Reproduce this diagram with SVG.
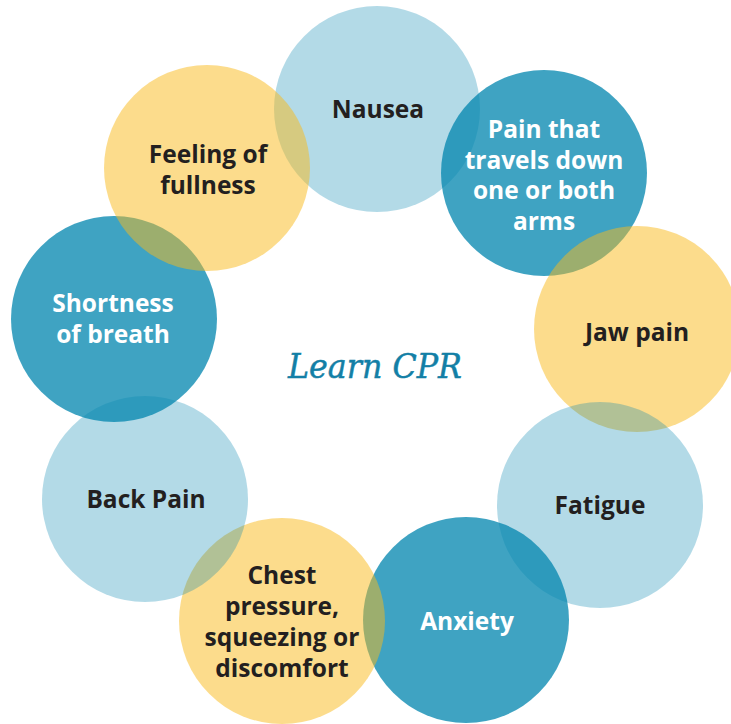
<svg xmlns="http://www.w3.org/2000/svg" width="731" height="724" viewBox="0 0 731 724">
<style>
.lb{fill:#0286af;fill-opacity:0.3}
.tl{fill:#0286af;fill-opacity:0.76}
.yl{fill:#f9b919;fill-opacity:0.5}
.t{font-family:"Open Sans","Liberation Sans",sans-serif;font-weight:700;font-size:24.5px;text-anchor:middle;fill:#231f20}
.w{fill:#ffffff}
.title{font-family:"DejaVu Serif","Liberation Serif",serif;font-style:italic;font-size:34px;fill:#137fa6;stroke:#137fa6;stroke-width:0.5;text-anchor:middle}
</style>
<rect width="731" height="724" fill="#ffffff"/>
<g id="connectors"/>
<g id="nausea"><circle class="lb" cx="377" cy="109" r="103"/><text class="t" x="378" y="118">Nausea</text></g>
<g id="pain-arms"><circle class="tl" cx="544" cy="173" r="103"/><text class="t w" x="544"><tspan x="544" y="138">Pain that</tspan><tspan x="544" y="169">travels down</tspan><tspan x="544" y="199">one or both</tspan><tspan x="544" y="230">arms</tspan></text></g>
<g id="jaw"><circle class="yl" cx="637" cy="329" r="103"/><text class="t" x="637" y="341">Jaw pain</text></g>
<g id="fatigue"><circle class="lb" cx="600" cy="505" r="103"/><text class="t" x="600" y="514">Fatigue</text></g>
<g id="anxiety"><circle class="tl" cx="466" cy="620" r="103"/><text class="t w" x="467" y="630">Anxiety</text></g>
<g id="chest"><circle class="yl" cx="282" cy="621" r="103"/><text class="t"><tspan x="282" y="584">Chest</tspan><tspan x="282" y="615">pressure,</tspan><tspan x="282" y="646">squeezing or</tspan><tspan x="282" y="677">discomfort</tspan></text></g>
<g id="back"><circle class="lb" cx="145" cy="499" r="103"/><text class="t" x="146" y="508">Back Pain</text></g>
<g id="shortness"><circle class="tl" cx="114" cy="319" r="103"/><text class="t w"><tspan x="113" y="312">Shortness</tspan><tspan x="113" y="343">of breath</tspan></text></g>
<g id="fullness"><circle class="yl" cx="207" cy="168" r="103"/><text class="t"><tspan x="208" y="163">Feeling of</tspan><tspan x="208" y="194">fullness</tspan></text></g>
<g id="center"><text class="title" x="375" y="378" textLength="174" lengthAdjust="spacingAndGlyphs">Learn CPR</text></g>
</svg>
